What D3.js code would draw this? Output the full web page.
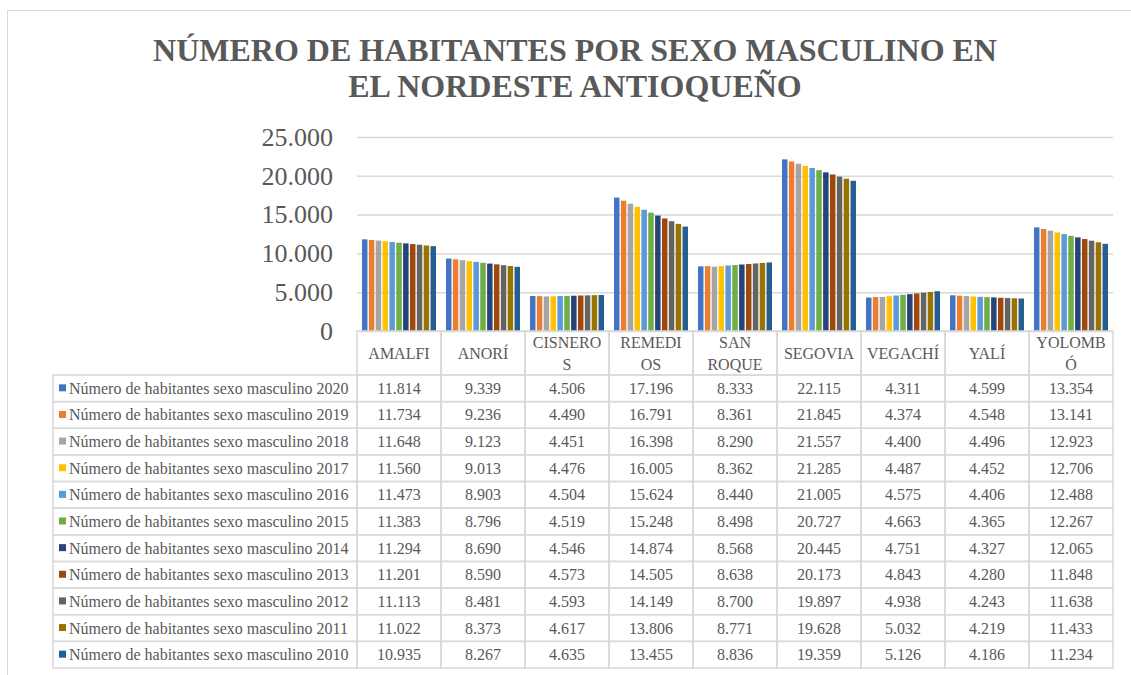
<!DOCTYPE html>
<html><head><meta charset="utf-8">
<script src="https://cdn.jsdelivr.net/npm/d3@7"></script>
<style>
html,body{margin:0;padding:0;background:#fff;}
svg{display:block;}
</style></head>
<body>
<svg id="c" width="1131" height="675"></svg>
<script>
const title = ["NÚMERO DE HABITANTES POR SEXO MASCULINO EN", "EL NORDESTE ANTIOQUEÑO"];
const categories = ["AMALFI","ANORÍ","CISNEROS","REMEDIOS","SAN ROQUE","SEGOVIA","VEGACHÍ","YALÍ","YOLOMBÓ"];
const categoryLines = [["AMALFI"],["ANORÍ"],["CISNERO","S"],["REMEDI","OS"],["SAN","ROQUE"],["SEGOVIA"],["VEGACHÍ"],["YALÍ"],["YOLOMB","Ó"]];
const years = [2020,2019,2018,2017,2016,2015,2014,2013,2012,2011,2010];
const colors = ["#4472C4","#ED7D31","#A5A5A5","#FFC000","#5B9BD5","#70AD47","#264478","#9E480E","#636363","#997300","#255E91"];
const v2020 = [11814,9339,4506,17196,8333,22115,4311,4599,13354];
const v2019 = [11734,9236,4490,16791,8361,21845,4374,4548,13141];
const v2018 = [11648,9123,4451,16398,8290,21557,4400,4496,12923];
const v2017 = [11560,9013,4476,16005,8362,21285,4487,4452,12706];
const v2016 = [11473,8903,4504,15624,8440,21005,4575,4406,12488];
const v2015 = [11383,8796,4519,15248,8498,20727,4663,4365,12267];
const v2014 = [11294,8690,4546,14874,8568,20445,4751,4327,12065];
const v2013 = [11201,8590,4573,14505,8638,20173,4843,4280,11848];
const v2012 = [11113,8481,4593,14149,8700,19897,4938,4243,11638];
const v2011 = [11022,8373,4617,13806,8771,19628,5032,4219,11433];
const v2010 = [10935,8267,4635,13455,8836,19359,5126,4186,11234];
const yTicks = [0,5000,10000,15000,20000,25000];

const seriesValues = [v2020,v2019,v2018,v2017,v2016,v2015,v2014,v2013,v2012,v2011,v2010];
const series = years.map((yr,i)=>({name:"Número de habitantes sexo masculino "+yr, color:colors[i], values:seriesValues[i]}));

const FONT = "'Liberation Serif', 'Times New Roman', serif";
const TXT = "#595959";
const svg = d3.select("#c").style("font-family",FONT);
const grid = "#D9D9D9";
const fmt = d => d3.format(",")(d).replace(/,/g,".");
const txt = sel => sel.style("font-family",FONT).attr("fill",TXT);

// outer chart border
svg.append("rect").attr("x",7.5).attr("y",10.5).attr("width",1140).attr("height",700)
  .attr("fill","none").attr("stroke",grid).attr("stroke-width",1);

// title
svg.append("g").selectAll("text").data(title).join("text")
  .attr("x",575).attr("y",(d,i)=>61+i*36).attr("text-anchor","middle")
  .attr("font-size",32).attr("font-weight","bold").text(d=>d).call(txt);

const pLeft=357, pRight=1113, pTop=137, pBase=331;
const x = d3.scaleBand().domain(categories).range([pLeft,pRight]);
const x1 = d3.scaleBand().domain(years).range([5,x.bandwidth()-5]).paddingInner(0.2);
const y = d3.scaleLinear().domain([0,25000]).range([pBase,pTop]);

// gridlines
svg.append("g").attr("transform",`translate(${pLeft},0)`)
  .call(d3.axisLeft(y).tickValues(yTicks).tickSize(-(pRight-pLeft)).tickFormat(""))
  .call(g=>g.select(".domain").remove())
  .call(g=>g.selectAll("line").attr("stroke",grid).attr("stroke-width",1.5));

// axis labels
svg.append("g").attr("transform",`translate(${pLeft},0)`)
  .call(d3.axisLeft(y).tickValues(yTicks).tickSize(0).tickPadding(24).tickFormat(fmt))
  .call(g=>g.select(".domain").remove())
  .call(g=>g.selectAll("text").attr("font-size",26).call(txt));

// bars
svg.append("g").selectAll("g").data(series).join("g")
  .attr("fill",d=>d.color)
  .selectAll("rect").data((d,i)=>d.values.map((v,j)=>({v,cat:categories[j],yr:years[i]})))
  .join("rect")
  .attr("x",d=>x(d.cat)+x1(d.yr)).attr("width",x1.bandwidth())
  .attr("y",d=>y(d.v)).attr("height",d=>pBase-y(d.v));

// data table
const headerBottom = 375, rowH = (668-375)/11, legLeft = 53;
const tg = svg.append("g");
categories.forEach((c,j)=>{
  tg.append("rect").attr("x",x(c)).attr("y",pBase).attr("width",x.bandwidth()).attr("height",headerBottom-pBase)
    .attr("fill","none").attr("stroke",grid).attr("stroke-width",1.5);
  const lines = categoryLines[j];
  const cy = (pBase+headerBottom)/2;
  lines.forEach((ln,k)=>{
    tg.append("text").attr("x",x(c)+x.bandwidth()/2)
      .attr("y",cy+6+(k-(lines.length-1)/2)*22).attr("text-anchor","middle")
      .attr("font-size",16).text(ln).call(txt);
  });
});
series.forEach((s,i)=>{
  const ry = headerBottom+i*rowH;
  tg.append("rect").attr("x",legLeft).attr("y",ry).attr("width",pLeft-legLeft).attr("height",rowH)
    .attr("fill","none").attr("stroke",grid).attr("stroke-width",1.5);
  tg.append("rect").attr("x",59).attr("y",ry+rowH/2-4).attr("width",7).attr("height",7).attr("fill",s.color);
  tg.append("text").attr("x",69).attr("y",ry+rowH/2+5.5).attr("font-size",16).text(s.name).call(txt);
  s.values.forEach((v,j)=>{
    const c = categories[j];
    tg.append("rect").attr("x",x(c)).attr("y",ry).attr("width",x.bandwidth()).attr("height",rowH)
      .attr("fill","none").attr("stroke",grid).attr("stroke-width",1.5);
    tg.append("text").attr("x",x(c)+x.bandwidth()/2).attr("y",ry+rowH/2+5.5)
      .attr("text-anchor","middle").attr("font-size",16).text(fmt(v)).call(txt);
  });
});
</script>
</body></html>
